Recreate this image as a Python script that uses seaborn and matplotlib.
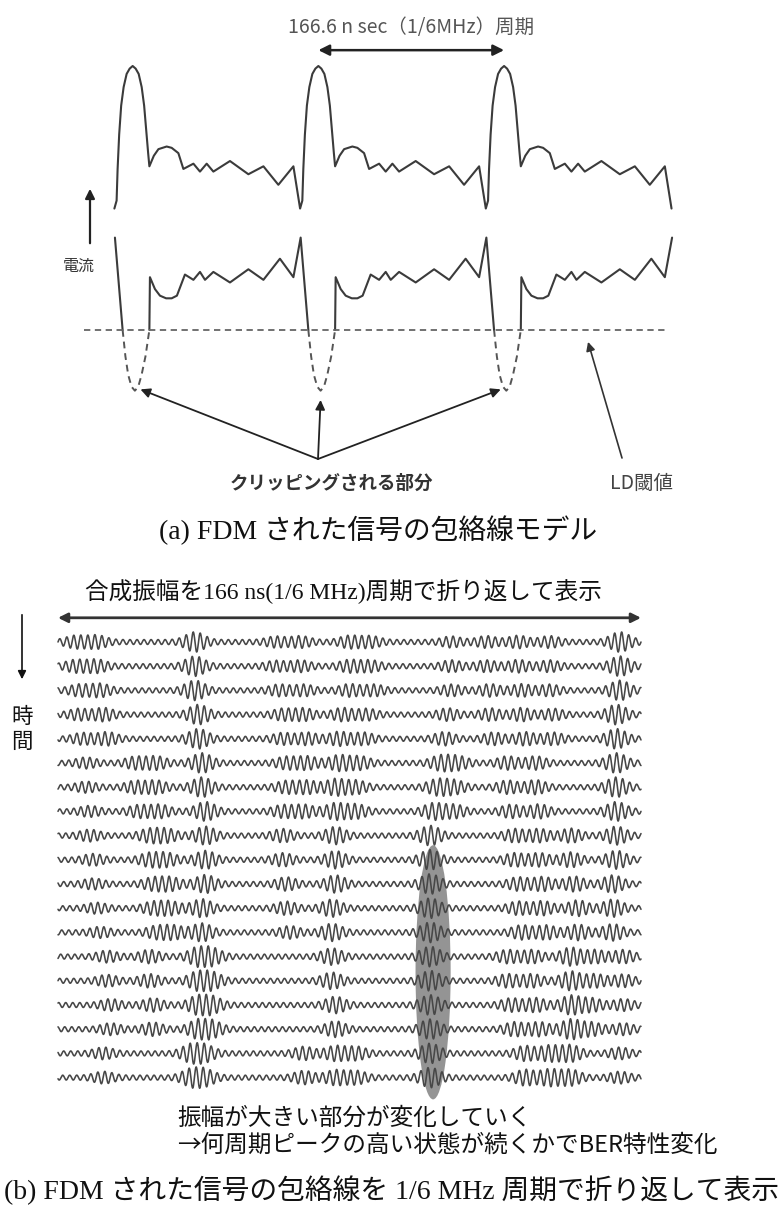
import numpy as np
import pandas as pd
import matplotlib
matplotlib.use("Agg")
import matplotlib.pyplot as plt
import seaborn as sns
from matplotlib.patches import Ellipse, FancyArrowPatch

sns.set_theme(style="white")
plt.rcParams['font.family'] = ['Noto Sans CJK JP', 'DejaVu Sans']

W, H = 782, 1215

# ---------------- data: (a) envelope model ----------------
PERIOD_NS = 166.6
N_PEAKS = 3
# one period of the upper (unclipped) envelope, relative to the peak centre
upper_t = [-16.4, -14.4, -13.5, -12.1, -10.3, -8.1, -5.4, -2.7, 0.0, 2.7, 5.4, 8.1,
           10.3, 12.1, 13.9, 15.0, 19.0, 23.1, 30.5, 35.0, 41.0, 45.5, 54.5, 60.4,
           66.4, 72.4, 87.3, 103.8, 117.3, 130.7, 144.2]
upper_i = [4.6, 4.9, 6.1, 7.4, 8.5, 9.2, 9.7, 9.9, 10.0, 9.9, 9.7, 9.2,
           8.5, 7.6, 6.7, 6.2, 6.6, 6.85, 6.95, 6.9, 6.7, 6.1, 6.3, 6.0,
           6.3, 6.0, 6.4, 5.9, 6.2, 5.5, 6.2]
# one period of the lower (biased-down) envelope above the LD threshold
lower_t = [15.0, 15.5, 20.0, 24.5, 30.0, 35.0, 39.7, 46.9, 54.5, 60.4, 64.9, 72.4,
           87.3, 103.8, 117.3, 132.1, 144.2, 150.7]
lower_i = [0.0, 2.0, 1.55, 1.3, 1.2, 1.2, 1.3, 2.1, 1.9, 2.2, 1.9, 2.2,
           1.8, 2.3, 1.9, 2.7, 2.0, 3.5]
# clipped part below the threshold
clip_t = [-9.0, -6.5, -4.0, -1.0, 2.0, 5.0, 8.0, 11.5, 15.0]
clip_i = [0.0, -1.0, -1.7, -2.15, -2.3, -2.15, -1.7, -1.0, 0.0]
LD_THRESHOLD = 0.0

# ---------------- data: (b) folded composite amplitude ----------------
FOLD_NS = 166.0
CARRIER_NS = 2.0
# per row (top = earliest): burst centres (ns within the 166 ns fold)
burst_c = [
    [5, 11, 39, 62, 69, 83, 89, 112, 122, 131, 140, 160],
    [5, 11, 39, 62, 69, 83, 89, 112, 122, 131, 140, 160],
    [6, 12, 39, 63, 70, 83, 90, 112, 123, 132, 140, 160],
    [6, 13, 40, 64, 70, 81, 88, 111, 123, 132, 141, 159],
    [7, 14, 40, 64, 71, 80, 87, 110, 124, 133, 141, 159],
    [8, 22, 28, 41, 65, 71, 80, 86, 109, 114, 128, 136, 159],
    [8, 22, 28, 41, 65, 71, 79, 85, 108, 113, 128, 136, 159],
    [9, 23, 29, 42, 64, 70, 79, 85, 107, 113, 129, 137, 159],
    [9, 26, 31, 42, 64, 79, 106, 130, 137, 146, 159],
    [10, 26, 31, 42, 64, 79, 106, 130, 137, 146, 159],
    [10, 27, 32, 42, 65, 79, 106, 131, 138, 147, 158],
    [11, 27, 32, 41, 65, 78, 106, 131, 138, 148, 158],
    [12, 28, 33, 41, 66, 78, 106, 132, 139, 148, 158],
    [14, 26, 40, 44, 78, 106, 128, 135, 146, 153, 161],
    [14, 26, 40, 44, 78, 106, 128, 135, 146, 153, 161],
    [15, 27, 40, 44, 79, 106, 129, 136, 146, 152, 161],
    [15, 27, 40, 44, 79, 106, 130, 137, 146, 152, 161],
    [13, 38, 42, 70, 79, 85, 106, 133, 140, 146, 160],
    [13, 38, 42, 70, 79, 85, 106, 133, 140, 146, 160],
]
# matching relative burst amplitudes
burst_a = [
    [0.55, 0.6, 1.0, 0.45, 0.5, 0.55, 0.5, 0.45, 0.5, 0.55, 0.5, 1.0],
    [0.55, 0.6, 1.0, 0.45, 0.5, 0.55, 0.5, 0.5, 0.5, 0.55, 0.5, 1.0],
    [0.5, 0.6, 1.0, 0.5, 0.5, 0.55, 0.5, 0.5, 0.55, 0.55, 0.5, 1.0],
    [0.5, 0.6, 1.0, 0.5, 0.55, 0.6, 0.5, 0.55, 0.55, 0.6, 0.5, 1.0],
    [0.5, 0.6, 1.0, 0.5, 0.55, 0.65, 0.55, 0.6, 0.55, 0.6, 0.55, 1.0],
    [0.45, 0.55, 0.6, 1.0, 0.55, 0.6, 0.75, 0.6, 0.7, 0.6, 0.6, 0.6, 1.0],
    [0.45, 0.55, 0.6, 1.0, 0.55, 0.6, 0.8, 0.6, 0.75, 0.6, 0.6, 0.65, 1.0],
    [0.45, 0.55, 0.6, 0.95, 0.55, 0.6, 0.8, 0.65, 0.8, 0.6, 0.6, 0.65, 0.95],
    [0.5, 0.6, 0.6, 0.9, 0.6, 0.85, 1.0, 0.6, 0.6, 0.65, 0.9],
    [0.5, 0.6, 0.6, 0.9, 0.6, 0.85, 1.0, 0.6, 0.6, 0.7, 0.9],
    [0.45, 0.55, 0.6, 0.9, 0.6, 0.85, 1.0, 0.6, 0.65, 0.7, 0.85],
    [0.45, 0.55, 0.6, 0.9, 0.6, 0.85, 1.0, 0.6, 0.65, 0.75, 0.85],
    [0.45, 0.55, 0.6, 0.9, 0.55, 0.85, 1.0, 0.65, 0.65, 0.75, 0.8],
    [0.5, 0.6, 0.9, 0.7, 0.8, 1.0, 0.6, 0.6, 0.9, 0.6, 0.6],
    [0.5, 0.6, 0.9, 0.7, 0.8, 1.0, 0.6, 0.6, 0.95, 0.6, 0.55],
    [0.5, 0.6, 0.9, 0.7, 0.8, 1.0, 0.6, 0.65, 0.95, 0.6, 0.5],
    [0.5, 0.6, 0.9, 0.7, 0.75, 1.0, 0.65, 0.65, 1.0, 0.6, 0.5],
    [0.5, 0.85, 0.7, 0.6, 0.7, 0.6, 1.0, 0.7, 0.75, 0.8, 0.5],
    [0.5, 0.8, 0.7, 0.6, 0.7, 0.6, 1.0, 0.75, 0.8, 0.75, 0.5],
]
HIGH_PEAK_NS = 106.8      # where the large-amplitude part settles (shaded)
HIGH_PEAK_ROWS = (8.4, 18.9)

# ---------------- figure ----------------
fig = plt.figure(figsize=(W / 100, H / 100), dpi=100)
fig.patch.set_facecolor('white')
SERIF_JP = ['Liberation Serif', 'Noto Sans CJK JP']


def fpx(x, y):
    """figure-pixel position (origin top-left) -> figure fraction"""
    return (x / W, 1 - y / H)


def ftext(x, y, s, **kw):
    fx, fy = fpx(x, y)
    fig.text(fx, fy, s, **kw)


# ---------- panel (a) ----------
ax_a = fig.add_axes([0, 1 - 500 / H, 1, 500 / H])
ax_a.set_xlim(-119.0, 582.5)
ax_a.set_ylim(-6.44, 12.5)
ax_a.axis('off')

P = PERIOD_NS
ut = np.array(upper_t)
ui = np.array(upper_i)
lt = np.array(lower_t)
li = np.array(lower_i)

up_t = np.concatenate([ut + k * P for k in range(N_PEAKS)] + [[ut[0] + N_PEAKS * P]])
up_i = np.concatenate([ui for _ in range(N_PEAKS)] + [[ui[0]]])
df_up = pd.DataFrame({'t': up_t, 'i': up_i, 'seg': 0})

segs = [pd.DataFrame({'t': [lt[-1] - P, clip_t[0]], 'i': [li[-1], LD_THRESHOLD], 'seg': -1})]
for k in range(N_PEAKS):
    tt = list(lt + k * P)
    ii = list(li)
    if k < N_PEAKS - 1:
        tt.append(clip_t[0] + (k + 1) * P)
        ii.append(LD_THRESHOLD)
    segs.append(pd.DataFrame({'t': tt, 'i': ii, 'seg': k}))
df_low = pd.concat(segs, ignore_index=True)

df_clip = pd.concat([pd.DataFrame({'t': np.array(clip_t) + k * P, 'i': clip_i, 'seg': k})
                     for k in range(N_PEAKS)], ignore_index=True)

line_col = '#3b3b3b'
sns.lineplot(data=df_up, x='t', y='i', units='seg', estimator=None, sort=False,
             color=line_col, lw=1.5, ax=ax_a)
sns.lineplot(data=df_low, x='t', y='i', units='seg', estimator=None, sort=False,
             color=line_col, lw=1.5, ax=ax_a)
sns.lineplot(data=df_clip, x='t', y='i', units='seg', estimator=None, sort=False,
             color='#555555', lw=1.4, linestyle=(0, (3.5, 2.5)), ax=ax_a)
ax_a.hlines(LD_THRESHOLD, -43.7, 480.0, colors='#666666', lw=1.3,
            linestyles=(0, (3.5, 2.5)))

# period arrow
ax_a.annotate('', xy=(2 * P, 10.6), xytext=(P, 10.6),
              arrowprops=dict(arrowstyle='<|-|>', color='#222222', lw=1.8,
                              mutation_scale=16, shrinkA=0, shrinkB=0))
ftext(411, 28, '166.6 n sec（1/6MHz）周期', ha='center', va='center',
      fontsize=14, color='#555555')

# current arrow and label
fig.add_artist(FancyArrowPatch(
    fpx(90, 246), fpx(90, 186), transform=fig.transFigure, arrowstyle='-|>',
    mutation_scale=14, color='#222222', lw=1.6))
ftext(79, 266, '電流', ha='center', va='center', fontsize=11.5, color='#333333')

# clipping arrows
bk = int(np.argmin(clip_i))
src = (318, H - 459)
targets = [(clip_t[bk] + 5.0, clip_i[bk] + 0.05),
           (P + clip_t[bk], clip_i[bk] - 0.35),
           (2 * P + clip_t[bk] - 5.0, clip_i[bk] + 0.05)]
for tx, ty in targets:
    ax_a.annotate('', xy=(tx, ty), xycoords='data', xytext=src,
                  textcoords='figure pixels',
                  arrowprops=dict(arrowstyle='-|>', color='#222222', lw=1.3,
                                  mutation_scale=14, shrinkA=0, shrinkB=0))
ftext(331, 483, 'クリッピングされる部分', ha='center', va='center',
      fontsize=13.3, color='#333333', fontweight='bold')

# LD threshold arrow
ax_a.annotate('', xy=(408.5, LD_THRESHOLD - 0.45), xycoords='data',
              xytext=(622, H - 458), textcoords='figure pixels',
              arrowprops=dict(arrowstyle='-|>', color='#333333', lw=1.2,
                              mutation_scale=13, shrinkA=0, shrinkB=0))
ftext(642, 483, 'LD閾値', ha='center', va='center', fontsize=14,
      color='#444444')

ftext(378, 530, '(a) FDM された信号の包絡線モデル', ha='center', va='center',
      fontsize=20, color='#111111', family=SERIF_JP)

# ---------- panel (b) ----------
ROW_TOP_PX, ROW_STEP_PX = 642, 24.2
ax_b = fig.add_axes([0, 0, 1, (H - 560) / H])
x0_px, x1_px = 58, 641
px_per_ns = (x1_px - x0_px) / FOLD_NS
ax_b.set_xlim(-x0_px / px_per_ns, (W - x0_px) / px_per_ns)
ax_b.set_ylim((H - ROW_TOP_PX) / ROW_STEP_PX, (560 - ROW_TOP_PX) / ROW_STEP_PX)
ax_b.axis('off')

t = np.linspace(0, FOLD_NS, 3000)
frames = []
for r, (cs, as_) in enumerate(zip(burst_c, burst_a)):
    s = np.zeros_like(t)
    for c, a in zip(cs, as_):
        s += a * np.exp(-((t - c) / 3.6) ** 2)
    env = np.minimum(0.1 + 0.32 * s, 0.44)
    y = r - env * np.sin(2 * np.pi * t / CARRIER_NS + 0.9 * r)
    frames.append(pd.DataFrame({'t': t, 'y': y, 'row': r}))
df_b = pd.concat(frames, ignore_index=True)

ell = Ellipse((HIGH_PEAK_NS, np.mean(HIGH_PEAK_ROWS)), width=10.0,
              height=HIGH_PEAK_ROWS[1] - HIGH_PEAK_ROWS[0], facecolor='#7a7a7a',
              edgecolor='none', alpha=0.8, zorder=1)
ax_b.add_patch(ell)
sns.lineplot(data=df_b, x='t', y='y', units='row', estimator=None, sort=False,
             color='#474747', lw=1.15, ax=ax_b, zorder=2)

# top arrow of (b)
ax_b.annotate('', xy=(FOLD_NS, -1.0), xytext=(0, -1.0),
              arrowprops=dict(arrowstyle='<|-|>', color='#333333', lw=2.0,
                              mutation_scale=14, shrinkA=0, shrinkB=0))
ftext(85, 592, '合成振幅を166 ns(1/6 MHz)周期で折り返して表示', ha='left',
      va='center', fontsize=17, color='#111111', family=SERIF_JP)

# time arrow
fig.add_artist(FancyArrowPatch(
    fpx(22, 612), fpx(22, 682), transform=fig.transFigure, arrowstyle='-|>',
    mutation_scale=12, color='#111111', lw=1.2))
ftext(22, 717, '時', ha='center', va='center', fontsize=15.5, color='#111111')
ftext(22, 742, '間', ha='center', va='center', fontsize=15.5, color='#111111')

ftext(177, 1118, '振幅が大きい部分が変化していく', ha='left', va='center',
      fontsize=17, color='#111111')
ftext(177, 1145, '→何周期ピークの高い状態が続くかでBER特性変化', ha='left',
      va='center', fontsize=17, color='#111111')
ftext(391, 1190, '(b) FDM された信号の包絡線を 1/6 MHz 周期で折り返して表示',
      ha='center', va='center', fontsize=20, color='#111111', family=SERIF_JP)

fig.savefig('out.png', dpi=100, facecolor='white')
